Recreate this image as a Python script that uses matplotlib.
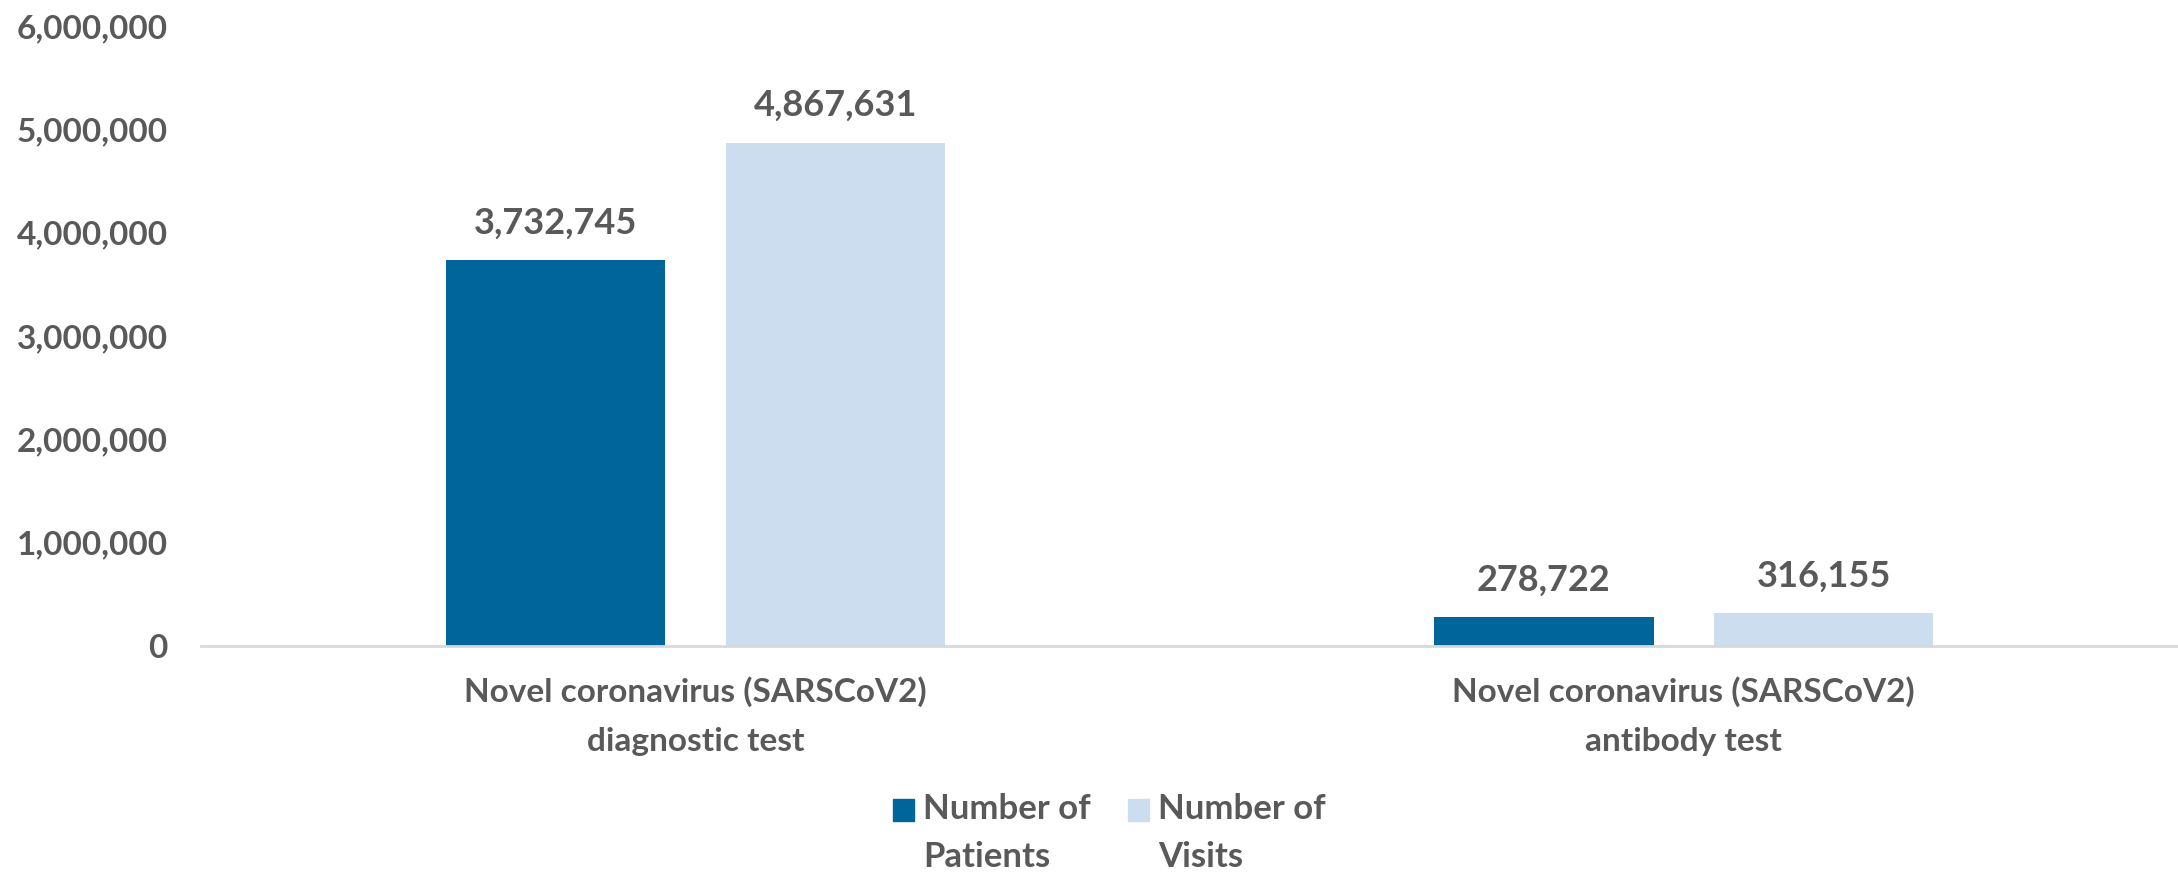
import matplotlib
matplotlib.use("Agg")
import matplotlib.pyplot as plt
import matplotlib.ticker as ticker
from matplotlib.patches import Rectangle
import numpy as np

categories = ["Novel coronavirus (SARSCoV2)\ndiagnostic test",
              "Novel coronavirus (SARSCoV2)\nantibody test"]
series_names = ["Number of\nPatients", "Number of\nVisits"]
patients = [3732745, 278722]
visits = [4867631, 316155]
y_ticks = [0, 1000000, 2000000, 3000000, 4000000, 5000000, 6000000]

dark_blue = "#00659A"
light_blue = "#CCDDF0"
text_grey = "#595959"

plt.rcParams["font.family"] = ["Lato", "DejaVu Sans"]
plt.rcParams["font.weight"] = "bold"

fig = plt.figure(figsize=(21.78, 8.72), dpi=100)
ax = fig.add_axes([0.0923, 0.2592, 0.9077, 0.711])

x = np.arange(len(categories))
width = 0.222
offset = 0.1416

b1 = ax.bar(x - offset, patients, width, color=dark_blue)
b2 = ax.bar(x + offset, visits, width, color=light_blue)

for bars in (b1, b2):
    ax.bar_label(bars, labels=[f"{v:,.0f}" for v in bars.datavalues],
                 padding=15, fontsize=26, color=text_grey, fontweight="bold")

ax.set_xlim(-0.5, 1.5)
ax.set_ylim(0, 6000000)
ax.set_yticks(y_ticks)
ax.yaxis.set_major_formatter(ticker.StrMethodFormatter("{x:,.0f}"))
ax.set_xticks(x)
ax.set_xticklabels(categories, linespacing=1.8)

ax.tick_params(axis="y", length=0, pad=24, labelsize=24, labelcolor=text_grey)
ax.tick_params(axis="x", length=0, pad=22, labelsize=24, labelcolor=text_grey)

for side in ("top", "right", "left"):
    ax.spines[side].set_visible(False)
ax.spines["bottom"].set_color("#D9D9D9")
ax.spines["bottom"].set_linewidth(2)

# legend drawn by hand so the swatch sits beside the first line of each label
legend_x = [893 / 2178, 1128 / 2178]
for lx, name, col in zip(legend_x, series_names, [dark_blue, light_blue]):
    fig.add_artist(Rectangle((lx, 1 - 821 / 872), 21 / 2178, 22 / 872,
                             transform=fig.transFigure, color=col))
    fig.text(lx + 30 / 2178, 1 - 793 / 872, name, ha="left", va="top",
             fontsize=25, color=text_grey, fontweight="bold", linespacing=1.6)

plt.savefig("out.png", dpi=100)
print("Saved out.png")
